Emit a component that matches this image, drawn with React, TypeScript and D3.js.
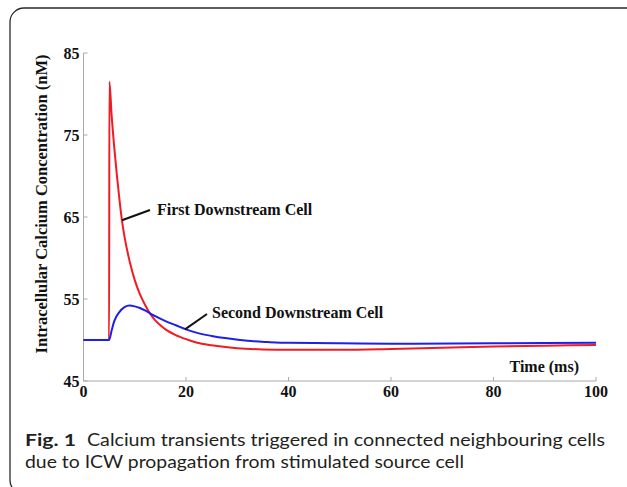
import { useEffect, useRef } from "react";
import * as d3 from "d3";

// values (time in ms, concentration in nM)
const firstTime = [0, 5, 5.05, 5.5, 6, 6.5, 7, 7.5, 8, 9, 10, 11, 12, 13, 14, 15, 16, 18, 20, 22, 25, 30, 35, 40, 50, 60, 70, 80, 90, 100];
const firstConc = [50, 50, 81.5, 77.3, 73.5, 70.2, 67.2, 64.6, 62.6, 59.6, 57.3, 55.6, 54.3, 53.2, 52.4, 51.8, 51.3, 50.6, 50.1, 49.7, 49.35, 49.0, 48.85, 48.8, 48.8, 48.9, 49.05, 49.2, 49.3, 49.4];

const secondTime = [0, 5, 5.5, 6, 7, 8, 9, 10, 11, 12, 13, 14, 16, 18, 20, 22, 25, 28, 32, 36, 40, 50, 60, 80, 100];
const secondConc = [50, 50, 51.2, 52.3, 53.4, 54, 54.2, 54.1, 53.9, 53.6, 53.25, 52.9, 52.3, 51.8, 51.3, 50.9, 50.5, 50.2, 49.9, 49.75, 49.65, 49.6, 49.55, 49.6, 49.65];

const xTicks = [0, 20, 40, 60, 80, 100];
const yTicks = [45, 55, 65, 75, 85];

const W = 627;
const H = 487;

export default function App() {
  const svgRef = useRef<SVGSVGElement>(null);

  useEffect(() => {
    if (!svgRef.current) return;
    const svg = d3.select(svgRef.current);
    svg.selectAll("*").remove();

    const x = d3.scaleLinear().domain([0, 100]).range([83.5, 596]);
    const y = d3.scaleLinear().domain([45, 85]).range([381, 53]);

    // card frame
    svg
      .append("rect")
      .attr("x", 10)
      .attr("y", 8)
      .attr("width", 640)
      .attr("height", 486)
      .attr("rx", 14)
      .attr("fill", "none")
      .attr("stroke", "#2a2a2a")
      .attr("stroke-width", 1.3);

    const serif = "'Liberation Serif', 'Times New Roman', serif";
    const axisColor = "#a8a8a8";

    // axes
    svg
      .append("line")
      .attr("x1", x(0)).attr("x2", x(0))
      .attr("y1", y(45)).attr("y2", y(85))
      .attr("stroke", axisColor);
    svg
      .append("line")
      .attr("x1", x(0)).attr("x2", x(100))
      .attr("y1", y(45)).attr("y2", y(45))
      .attr("stroke", axisColor);

    yTicks.forEach((t) => {
      svg.append("line")
        .attr("x1", x(0)).attr("x2", x(0) + 4)
        .attr("y1", y(t)).attr("y2", y(t))
        .attr("stroke", axisColor);
      svg.append("text")
        .attr("x", x(0) - 4)
        .attr("y", y(t) + 6)
        .attr("text-anchor", "end")
        .attr("font-family", serif)
        .attr("font-weight", "bold")
        .attr("font-size", 16)
        .attr("fill", "#111")
        .text(t);
    });

    xTicks.forEach((t) => {
      svg.append("line")
        .attr("x1", x(t)).attr("x2", x(t))
        .attr("y1", y(45)).attr("y2", y(45) - 4)
        .attr("stroke", axisColor);
      svg.append("text")
        .attr("x", x(t))
        .attr("y", 397)
        .attr("text-anchor", "middle")
        .attr("font-family", serif)
        .attr("font-weight", "bold")
        .attr("font-size", 16)
        .attr("fill", "#111")
        .text(t);
    });

    svg.append("text")
      .attr("transform", `translate(47,204) rotate(-90)`)
      .attr("text-anchor", "middle")
      .attr("font-family", serif)
      .attr("font-weight", "bold")
      .attr("font-size", 16.5)
      .attr("fill", "#111")
      .text("Intracellular Calcium Concentration (nM)");

    svg.append("text")
      .attr("x", 579)
      .attr("y", 372)
      .attr("text-anchor", "end")
      .attr("font-family", serif)
      .attr("font-weight", "bold")
      .attr("font-size", 16)
      .attr("fill", "#111")
      .text("Time (ms)");

    // curves
    const line = d3
      .line<[number, number]>()
      .x((d) => x(d[0]))
      .y((d) => y(d[1]))
      .curve(d3.curveMonotoneX);

    const first = firstTime.map((t, i) => [t, firstConc[i]] as [number, number]);
    const second = secondTime.map((t, i) => [t, secondConc[i]] as [number, number]);

    svg.append("path")
      .attr("d", line(first))
      .attr("fill", "none")
      .attr("stroke", "#f01c24")
      .attr("stroke-width", 2);
    svg.append("path")
      .attr("d", line(second))
      .attr("fill", "none")
      .attr("stroke", "#1f1fe6")
      .attr("stroke-width", 2);

    // annotations
    const notes = [
      { label: "First Downstream Cell", from: [7.5, 64.6], to: [150, 210], tx: 157, ty: 215 },
      { label: "Second Downstream Cell", from: [19.8, 51.3], to: [207, 314], tx: 212, ty: 318 },
    ];
    notes.forEach((n) => {
      svg.append("line")
        .attr("x1", x(n.from[0])).attr("y1", y(n.from[1]))
        .attr("x2", n.to[0]).attr("y2", n.to[1])
        .attr("stroke", "#111")
        .attr("stroke-width", 2);
      svg.append("text")
        .attr("x", n.tx)
        .attr("y", n.ty)
        .attr("font-family", serif)
        .attr("font-weight", "bold")
        .attr("font-size", 16)
        .attr("fill", "#111")
        .text(n.label);
    });

    // caption
    const sans = "Lato, 'Noto Sans', sans-serif";
    svg.append("text")
      .attr("x", 25)
      .attr("y", 446)
      .attr("font-family", sans)
      .attr("font-weight", "bold")
      .attr("font-size", 17)
      .attr("fill", "#231f20")
      .attr("textLength", 51)
      .attr("lengthAdjust", "spacingAndGlyphs")
      .text("Fig. 1");
    svg.append("text")
      .attr("x", 87)
      .attr("y", 446)
      .attr("font-family", sans)
      .attr("font-size", 17)
      .attr("fill", "#231f20")
      .attr("textLength", 518)
      .attr("lengthAdjust", "spacingAndGlyphs")
      .text("Calcium transients triggered in connected neighbouring cells");
    svg.append("text")
      .attr("x", 25)
      .attr("y", 468)
      .attr("font-family", sans)
      .attr("font-size", 17)
      .attr("fill", "#231f20")
      .attr("textLength", 439)
      .attr("lengthAdjust", "spacingAndGlyphs")
      .text("due to ICW propagation from stimulated source cell");
  }, []);

  return (
    <svg
      ref={svgRef}
      width={W}
      height={H}
      style={{ position: "absolute", left: 0, top: 0, background: "#fff" }}
    />
  );
}
